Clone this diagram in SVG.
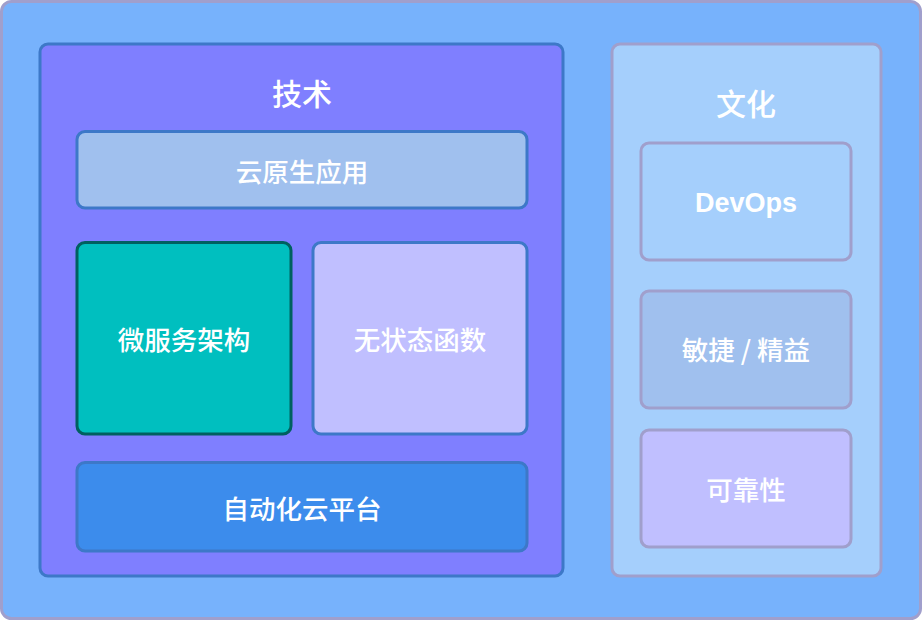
<svg xmlns="http://www.w3.org/2000/svg" width="922" height="620" viewBox="0 0 922 620">
<style>
text{font-family:"Noto Sans CJK SC","Liberation Sans",sans-serif;fill:#FFFFFF;text-anchor:middle;dominant-baseline:central;font-weight:500}
.t{font-size:30px}
.l{font-size:26.5px}
.b{stroke-width:3}
.blue{stroke:#3D78C8}
.grey{stroke:#A09FCC}
.en{font-family:"Liberation Sans",Arial,sans-serif;font-weight:bold;font-size:27px}
</style>
<g id="bg"><rect x="1.5" y="1.5" width="919" height="617" rx="10" fill="#77B2FC" class="b grey"/></g>
<g id="tech">
<rect x="40" y="44" width="523" height="532" rx="8" fill="#7F7FFF" class="b blue"/>
<text x="302" y="92" class="t">技术</text>
</g>
<g id="cloudnative"><rect x="77" y="131.5" width="450" height="76.5" rx="8" fill="#A0C0EE" class="b blue"/><text x="302" y="170" class="l">云原生应用</text></g>
<g id="microservice"><rect x="77" y="242.5" width="214" height="191.5" rx="8" fill="#00BFBF" class="b" stroke="#006060"/><text x="184" y="338" class="l">微服务架构</text></g>
<g id="serverless"><rect x="313" y="242.5" width="214" height="191.5" rx="8" fill="#C0BFFF" class="b blue"/><text x="420" y="338" class="l">无状态函数</text></g>
<g id="platform"><rect x="77" y="462.5" width="450" height="88.5" rx="8" fill="#3C8CEC" class="b blue"/><text x="302" y="507" class="l">自动化云平台</text></g>
<g id="culture">
<rect x="612" y="44" width="269" height="532" rx="8" fill="#A5CFFC" class="b grey"/>
<text x="746" y="102" class="t">文化</text>
</g>
<g id="devops"><rect x="641" y="143" width="210" height="117" rx="8" fill="#A5CFFC" class="b grey"/><text x="746" y="203" class="l en">DevOps</text></g>
<g id="agile"><rect x="641" y="291" width="210" height="117" rx="8" fill="#A0C0EE" class="b grey"/><text x="746" y="348" class="l">敏捷 / 精益</text></g>
<g id="reliability"><rect x="641" y="430" width="210" height="117" rx="8" fill="#C0BFFF" class="b grey"/><text x="746" y="488" class="l">可靠性</text></g>
<g id="connectors"/>
</svg>
